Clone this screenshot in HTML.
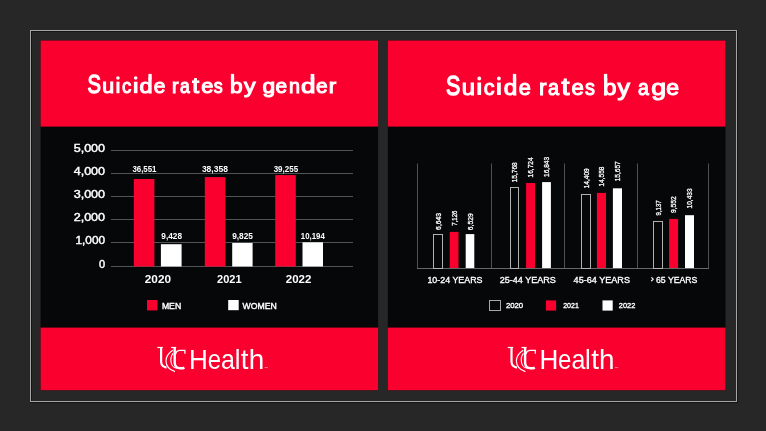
<!DOCTYPE html>
<html><head><meta charset="utf-8">
<style>
html,body{margin:0;padding:0;}
body{width:766px;height:431px;overflow:hidden;background:#272727;}
svg{display:block;will-change:transform;}
text{font-family:"Liberation Sans",sans-serif;fill:#fff;}
</style></head>
<body>
<svg width="766" height="431" viewBox="0 0 766 431">
<path d="M30 30.5 H737 M30.5 30 V402 M30 401.5 H737 M736.5 30 V402" stroke="#a6a6a6" stroke-width="1" fill="none"/>
<path d="M31 31.5 H736 M31.5 31 V401 M30 402.5 H738 M737.5 30 V403" stroke="#151515" stroke-width="1" fill="none"/>
<rect x="40.6" y="40.5" width="337.5" height="349.7" fill="#050709"/>
<rect x="40.6" y="40.5" width="337.5" height="86.1" fill="#fa002e"/>
<rect x="40.6" y="327.6" width="337.5" height="62.6" fill="#fa002e"/>
<rect x="387.8" y="40.5" width="337.7" height="349.7" fill="#050709"/>
<rect x="387.8" y="40.5" width="337.7" height="86.1" fill="#fa002e"/>
<rect x="387.8" y="327.6" width="337.7" height="62.6" fill="#fa002e"/>
<text transform="translate(87.61,93.20) scale(0.787,1.017)" font-size="25.6" stroke="#fff" stroke-width="1.30">S</text>
<text transform="translate(102.15,93.20) scale(0.837,0.809)" font-size="25.6" stroke="#fff" stroke-width="1.30">u</text>
<rect x="116.40" y="81.70" width="3.10" height="11.50" fill="#fff"/>
<circle cx="117.95" cy="77.95" r="1.80" fill="#fff"/>
<text transform="translate(122.03,93.20) scale(0.724,0.809)" font-size="25.6" stroke="#fff" stroke-width="1.30">c</text>
<rect x="133.90" y="81.70" width="3.60" height="11.50" fill="#fff"/>
<circle cx="135.70" cy="77.95" r="1.80" fill="#fff"/>
<text transform="translate(139.56,93.20) scale(0.920,0.809)" font-size="25.6" stroke="#fff" stroke-width="1.30">d</text>
<rect x="148.38" y="73.90" width="3.32" height="5.26" fill="#fff"/>
<text transform="translate(153.79,93.20) scale(0.817,0.809)" font-size="25.6" stroke="#fff" stroke-width="1.30">e</text>
<text transform="translate(172.12,93.20) scale(0.766,0.809)" font-size="25.6" stroke="#fff" stroke-width="1.30">r</text>
<text transform="translate(180.04,93.20) scale(0.685,0.809)" font-size="25.6" stroke="#fff" stroke-width="1.30">a</text>
<text transform="translate(192.35,93.20) scale(0.958,0.844)" font-size="25.6" stroke="#fff" stroke-width="1.30">t</text>
<text transform="translate(201.18,93.20) scale(0.854,0.809)" font-size="25.6" stroke="#fff" stroke-width="1.30">e</text>
<text transform="translate(213.82,93.20) scale(0.700,0.809)" font-size="25.6" stroke="#fff" stroke-width="1.30">s</text>
<text transform="translate(230.00,93.20) scale(0.889,0.809)" font-size="25.6" stroke="#fff" stroke-width="1.30">b</text>
<rect x="230.90" y="73.90" width="3.20" height="5.26" fill="#fff"/>
<text transform="translate(243.97,93.20) scale(0.903,0.809)" font-size="25.6" stroke="#fff" stroke-width="1.30">y</text>
<text transform="translate(262.57,93.20) scale(0.889,0.809)" font-size="25.6" stroke="#fff" stroke-width="1.30">g</text>
<text transform="translate(275.59,93.20) scale(0.817,0.809)" font-size="25.6" stroke="#fff" stroke-width="1.30">e</text>
<text transform="translate(288.92,93.20) scale(0.772,0.809)" font-size="25.6" stroke="#fff" stroke-width="1.30">n</text>
<text transform="translate(300.92,93.20) scale(1.014,0.809)" font-size="25.6" stroke="#fff" stroke-width="1.30">d</text>
<rect x="310.65" y="73.90" width="3.65" height="5.26" fill="#fff"/>
<text transform="translate(315.99,93.20) scale(0.817,0.809)" font-size="25.6" stroke="#fff" stroke-width="1.30">e</text>
<text transform="translate(328.82,93.20) scale(0.870,0.809)" font-size="25.6" stroke="#fff" stroke-width="1.30">r</text>
<text transform="translate(446.04,95.00) scale(0.788,1.035)" font-size="27.3" stroke="#fff" stroke-width="1.30">S</text>
<text transform="translate(461.82,95.00) scale(0.876,0.827)" font-size="27.3" stroke="#fff" stroke-width="1.30">u</text>
<rect x="477.40" y="82.50" width="3.70" height="12.50" fill="#fff"/>
<circle cx="479.25" cy="78.50" r="1.90" fill="#fff"/>
<text transform="translate(483.75,95.00) scale(0.789,0.827)" font-size="27.3" stroke="#fff" stroke-width="1.30">c</text>
<rect x="497.00" y="82.50" width="3.80" height="12.50" fill="#fff"/>
<circle cx="498.90" cy="78.50" r="1.90" fill="#fff"/>
<text transform="translate(503.71,95.00) scale(0.891,0.827)" font-size="27.3" stroke="#fff" stroke-width="1.30">d</text>
<rect x="512.85" y="73.90" width="3.35" height="5.70" fill="#fff"/>
<text transform="translate(518.75,95.00) scale(0.799,0.827)" font-size="27.3" stroke="#fff" stroke-width="1.30">e</text>
<text transform="translate(539.07,95.00) scale(0.825,0.827)" font-size="27.3" stroke="#fff" stroke-width="1.30">r</text>
<text transform="translate(548.08,95.00) scale(0.729,0.827)" font-size="27.3" stroke="#fff" stroke-width="1.30">a</text>
<text transform="translate(561.55,95.00) scale(1.041,0.875)" font-size="27.3" stroke="#fff" stroke-width="1.30">t</text>
<text transform="translate(571.44,95.00) scale(0.813,0.827)" font-size="27.3" stroke="#fff" stroke-width="1.30">e</text>
<text transform="translate(584.98,95.00) scale(0.729,0.827)" font-size="27.3" stroke="#fff" stroke-width="1.30">s</text>
<text transform="translate(602.90,95.00) scale(0.891,0.827)" font-size="27.3" stroke="#fff" stroke-width="1.30">b</text>
<rect x="603.90" y="73.90" width="3.35" height="5.70" fill="#fff"/>
<text transform="translate(617.57,95.00) scale(0.913,0.827)" font-size="27.3" stroke="#fff" stroke-width="1.30">y</text>
<text transform="translate(638.08,95.00) scale(0.715,0.827)" font-size="27.3" stroke="#fff" stroke-width="1.30">a</text>
<text transform="translate(651.27,95.00) scale(0.979,0.827)" font-size="27.3" stroke="#fff" stroke-width="1.30">g</text>
<text transform="translate(666.33,95.00) scale(0.848,0.827)" font-size="27.3" stroke="#fff" stroke-width="1.30">e</text>
<line x1="111" y1="150.5" x2="353" y2="150.5" stroke="#505555" stroke-width="1"/>
<text x="105.1" y="152.0" font-size="10" stroke="#fff" stroke-width="0.4" text-anchor="end" textLength="31.4" lengthAdjust="spacingAndGlyphs">5,000</text>
<line x1="111" y1="173.5" x2="353" y2="173.5" stroke="#505555" stroke-width="1"/>
<text x="105.1" y="175.0" font-size="10" stroke="#fff" stroke-width="0.4" text-anchor="end" textLength="31.4" lengthAdjust="spacingAndGlyphs">4,000</text>
<line x1="111" y1="196.5" x2="353" y2="196.5" stroke="#505555" stroke-width="1"/>
<text x="105.1" y="198.0" font-size="10" stroke="#fff" stroke-width="0.4" text-anchor="end" textLength="31.4" lengthAdjust="spacingAndGlyphs">3,000</text>
<line x1="111" y1="219.5" x2="353" y2="219.5" stroke="#505555" stroke-width="1"/>
<text x="105.1" y="221.0" font-size="10" stroke="#fff" stroke-width="0.4" text-anchor="end" textLength="31.4" lengthAdjust="spacingAndGlyphs">2,000</text>
<line x1="111" y1="242.5" x2="353" y2="242.5" stroke="#505555" stroke-width="1"/>
<text x="105.1" y="244.0" font-size="10" stroke="#fff" stroke-width="0.4" text-anchor="end" textLength="29.6" lengthAdjust="spacingAndGlyphs">1,000</text>
<line x1="111" y1="266.5" x2="353" y2="266.5" stroke="#505555" stroke-width="1"/>
<text x="105.1" y="268.0" font-size="10" stroke="#fff" stroke-width="0.4" text-anchor="end" textLength="6.1" lengthAdjust="spacingAndGlyphs">0</text>
<rect x="133.8" y="179.0" width="20.6" height="87.5" fill="#fa002e"/>
<rect x="204.8" y="177.1" width="20.6" height="89.4" fill="#fa002e"/>
<rect x="275.2" y="175.1" width="20.6" height="91.4" fill="#fa002e"/>
<rect x="160.9" y="244.2" width="20.7" height="22.3" fill="#fff"/>
<rect x="232.2" y="243.0" width="20.4" height="23.5" fill="#fff"/>
<rect x="302.5" y="242.3" width="20.5" height="24.2" fill="#fff"/>
<text x="132.4" y="172.1" font-size="8.2" font-weight="bold" textLength="24.1" lengthAdjust="spacingAndGlyphs">36,551</text>
<text x="201.9" y="172.1" font-size="8.2" font-weight="bold" textLength="26.0" lengthAdjust="spacingAndGlyphs">38,358</text>
<text x="273.7" y="172.0" font-size="8.2" font-weight="bold" textLength="24.4" lengthAdjust="spacingAndGlyphs">39,255</text>
<text x="161.3" y="238.6" font-size="8.2" font-weight="bold" textLength="20.7" lengthAdjust="spacingAndGlyphs">9,428</text>
<text x="232.2" y="238.8" font-size="8.2" font-weight="bold" textLength="20.8" lengthAdjust="spacingAndGlyphs">9,825</text>
<text x="300.8" y="238.8" font-size="8.2" font-weight="bold" textLength="24.0" lengthAdjust="spacingAndGlyphs">10,194</text>
<text x="144.8" y="282.8" font-size="11" font-weight="bold" textLength="26.2" lengthAdjust="spacingAndGlyphs">2020</text>
<text x="217.1" y="282.8" font-size="11" font-weight="bold" textLength="24.5" lengthAdjust="spacingAndGlyphs">2021</text>
<text x="285.8" y="282.8" font-size="11" font-weight="bold" textLength="25.6" lengthAdjust="spacingAndGlyphs">2022</text>
<rect x="147" y="300" width="10.4" height="10.4" fill="#fa002e"/>
<text x="161.9" y="309" font-size="8.8" stroke="#fff" stroke-width="0.4" textLength="19.3" lengthAdjust="spacingAndGlyphs">MEN</text>
<rect x="228.2" y="300" width="10.5" height="10.2" fill="#fff"/>
<text x="242.5" y="309.1" font-size="8.8" stroke="#fff" stroke-width="0.4" textLength="34.3" lengthAdjust="spacingAndGlyphs">WOMEN</text>
<line x1="417.5" y1="163.5" x2="417.5" y2="268" stroke="#4e5252" stroke-width="1"/>
<line x1="491.5" y1="163.5" x2="491.5" y2="268" stroke="#4e5252" stroke-width="1"/>
<line x1="564.5" y1="163.5" x2="564.5" y2="268" stroke="#4e5252" stroke-width="1"/>
<line x1="637.5" y1="163.5" x2="637.5" y2="268" stroke="#4e5252" stroke-width="1"/>
<line x1="708.5" y1="163.5" x2="708.5" y2="268" stroke="#4e5252" stroke-width="1"/>
<line x1="417" y1="268.5" x2="709" y2="268.5" stroke="#646868" stroke-width="1"/>
<rect x="433.5" y="234.5" width="9" height="34" fill="none" stroke="#b0b0b0" stroke-width="1"/>
<text transform="translate(440.8,229.9) rotate(-90)" font-size="7.7" stroke="#fff" stroke-width="0.3" textLength="17.0" lengthAdjust="spacingAndGlyphs">6,643</text>
<rect x="449.7" y="231.9" width="8.8" height="36.1" fill="#fa002e"/>
<text transform="translate(456.9,225.7) rotate(-90)" font-size="7.7" stroke="#fff" stroke-width="0.3" textLength="15.0" lengthAdjust="spacingAndGlyphs">7,126</text>
<rect x="465.7" y="234.1" width="8.6" height="33.9" fill="#fff"/>
<text transform="translate(472.8,230.2) rotate(-90)" font-size="7.7" stroke="#fff" stroke-width="0.3" textLength="17.0" lengthAdjust="spacingAndGlyphs">6,529</text>
<rect x="510.5" y="187.5" width="8" height="81" fill="none" stroke="#b0b0b0" stroke-width="1"/>
<text transform="translate(517.4,182.3) rotate(-90)" font-size="7.7" stroke="#fff" stroke-width="0.3" textLength="20.0" lengthAdjust="spacingAndGlyphs">15,768</text>
<rect x="526.1" y="183.0" width="8.9" height="85.0" fill="#fa002e"/>
<text transform="translate(533.3,177.4) rotate(-90)" font-size="7.7" stroke="#fff" stroke-width="0.3" textLength="20.0" lengthAdjust="spacingAndGlyphs">16,724</text>
<rect x="542.1" y="182.1" width="8.8" height="85.9" fill="#fff"/>
<text transform="translate(549.3,176.9) rotate(-90)" font-size="7.7" stroke="#fff" stroke-width="0.3" textLength="20.0" lengthAdjust="spacingAndGlyphs">16,843</text>
<rect x="581.5" y="194.5" width="9" height="74" fill="none" stroke="#b0b0b0" stroke-width="1"/>
<text transform="translate(588.8,188.3) rotate(-90)" font-size="7.7" stroke="#fff" stroke-width="0.3" textLength="20.0" lengthAdjust="spacingAndGlyphs">14,409</text>
<rect x="596.9" y="192.9" width="9.1" height="75.1" fill="#fa002e"/>
<text transform="translate(604.2,186.6) rotate(-90)" font-size="7.7" stroke="#fff" stroke-width="0.3" textLength="20.0" lengthAdjust="spacingAndGlyphs">14,558</text>
<rect x="612.9" y="188.3" width="9.1" height="79.7" fill="#fff"/>
<text transform="translate(620.2,181.3) rotate(-90)" font-size="7.7" stroke="#fff" stroke-width="0.3" textLength="20.0" lengthAdjust="spacingAndGlyphs">15,657</text>
<rect x="653.5" y="221.5" width="9" height="47" fill="none" stroke="#b0b0b0" stroke-width="1"/>
<text transform="translate(660.8,215.4) rotate(-90)" font-size="7.7" stroke="#fff" stroke-width="0.3" textLength="15.0" lengthAdjust="spacingAndGlyphs">9,137</text>
<rect x="669.1" y="218.9" width="9.0" height="49.1" fill="#fa002e"/>
<text transform="translate(676.4,213.1) rotate(-90)" font-size="7.7" stroke="#fff" stroke-width="0.3" textLength="17.0" lengthAdjust="spacingAndGlyphs">9,552</text>
<rect x="685.0" y="215.2" width="9.0" height="52.8" fill="#fff"/>
<text transform="translate(692.3,208.4) rotate(-90)" font-size="7.7" stroke="#fff" stroke-width="0.3" textLength="20.0" lengthAdjust="spacingAndGlyphs">10,433</text>
<text x="427.4" y="283.3" font-size="9.3" stroke="#fff" stroke-width="0.35" textLength="55.1" lengthAdjust="spacingAndGlyphs">10-24 YEARS</text>
<text x="499.7" y="283.3" font-size="9.3" stroke="#fff" stroke-width="0.35" textLength="56.2" lengthAdjust="spacingAndGlyphs">25-44 YEARS</text>
<text x="573.6" y="283.3" font-size="9.3" stroke="#fff" stroke-width="0.35" textLength="56.4" lengthAdjust="spacingAndGlyphs">45-64 YEARS</text>
<text x="656.0" y="283.3" font-size="9.3" stroke="#fff" stroke-width="0.35" textLength="41.4" lengthAdjust="spacingAndGlyphs">65 YEARS</text>
<text x="650.7" y="282.4" font-size="9.3" stroke="#fff" stroke-width="0.35">&#8250;</text>
<rect x="489.5" y="300.5" width="11" height="10" fill="none" stroke="#a8a8a8" stroke-width="1"/>
<text x="505.9" y="308.1" font-size="7.5" stroke="#fff" stroke-width="0.35" textLength="17.3" lengthAdjust="spacingAndGlyphs">2020</text>
<rect x="545.9" y="300.4" width="10.2" height="10.2" fill="#fa002e"/>
<text x="563.2" y="308.1" font-size="7.5" stroke="#fff" stroke-width="0.35" textLength="15.6" lengthAdjust="spacingAndGlyphs">2021</text>
<rect x="602.5" y="300.4" width="10.2" height="10.2" fill="#fff"/>
<text x="618.8" y="308.1" font-size="7.5" stroke="#fff" stroke-width="0.35" textLength="16.5" lengthAdjust="spacingAndGlyphs">2022</text>
<text transform="translate(189.11,368.6) scale(0.952,1)" font-size="27.4">H</text>
<text transform="translate(207.64,368.6) scale(0.876,1)" font-size="27.4">e</text>
<text transform="translate(221.10,368.6) scale(0.912,1)" font-size="27.4">a</text>
<text transform="translate(234.64,368.6) scale(0.933,1)" font-size="27.4">l</text>
<text transform="translate(240.78,368.6) scale(1.016,1)" font-size="27.4">t</text>
<text transform="translate(248.65,368.6) scale(1.017,1)" font-size="27.4">h</text>
<text x="264.5" y="368.2" font-size="2.4" fill="#eee">TM</text>
<g transform="translate(0.0,0)" fill="none" stroke="#fff" stroke-linecap="butt">
<path d="M157.4 347.5 H162.8" stroke-width="1.2"/>
<path d="M161.1 347.5 V362 Q161.5 366.8 166.6 367.6" stroke-width="2.2"/>
<path d="M172.8 350.3 C168.2 353.3 166 357.3 166 361 C166.1 366 170 370 175 371.6" stroke-width="1.15"/>
<path d="M171.1 347.5 H176.2" stroke-width="1.2"/>
<path d="M174.7 348 V363 Q175.2 367.8 179.9 368.3 Q183 368.4 184.4 367.6" stroke-width="2.4"/>
<path d="M175.6 354 Q176.4 350.3 180 350.3 H185 M184.9 349.8 V353.8" stroke-width="1.3"/>
<path d="M173 353.4 C171 356 170.5 360 171.2 363 C172 366.5 175 368.3 178.5 368.4" stroke-width="1.1"/>
</g>
<text transform="translate(539.51,368.6) scale(0.952,1)" font-size="27.4">H</text>
<text transform="translate(558.04,368.6) scale(0.876,1)" font-size="27.4">e</text>
<text transform="translate(571.50,368.6) scale(0.912,1)" font-size="27.4">a</text>
<text transform="translate(585.04,368.6) scale(0.933,1)" font-size="27.4">l</text>
<text transform="translate(591.18,368.6) scale(1.016,1)" font-size="27.4">t</text>
<text transform="translate(599.05,368.6) scale(1.017,1)" font-size="27.4">h</text>
<text x="614.9" y="368.2" font-size="2.4" fill="#eee">TM</text>
<g transform="translate(350.4,0)" fill="none" stroke="#fff" stroke-linecap="butt">
<path d="M157.4 347.5 H162.8" stroke-width="1.2"/>
<path d="M161.1 347.5 V362 Q161.5 366.8 166.6 367.6" stroke-width="2.2"/>
<path d="M172.8 350.3 C168.2 353.3 166 357.3 166 361 C166.1 366 170 370 175 371.6" stroke-width="1.15"/>
<path d="M171.1 347.5 H176.2" stroke-width="1.2"/>
<path d="M174.7 348 V363 Q175.2 367.8 179.9 368.3 Q183 368.4 184.4 367.6" stroke-width="2.4"/>
<path d="M175.6 354 Q176.4 350.3 180 350.3 H185 M184.9 349.8 V353.8" stroke-width="1.3"/>
<path d="M173 353.4 C171 356 170.5 360 171.2 363 C172 366.5 175 368.3 178.5 368.4" stroke-width="1.1"/>
</g>
</svg>
</body></html>
